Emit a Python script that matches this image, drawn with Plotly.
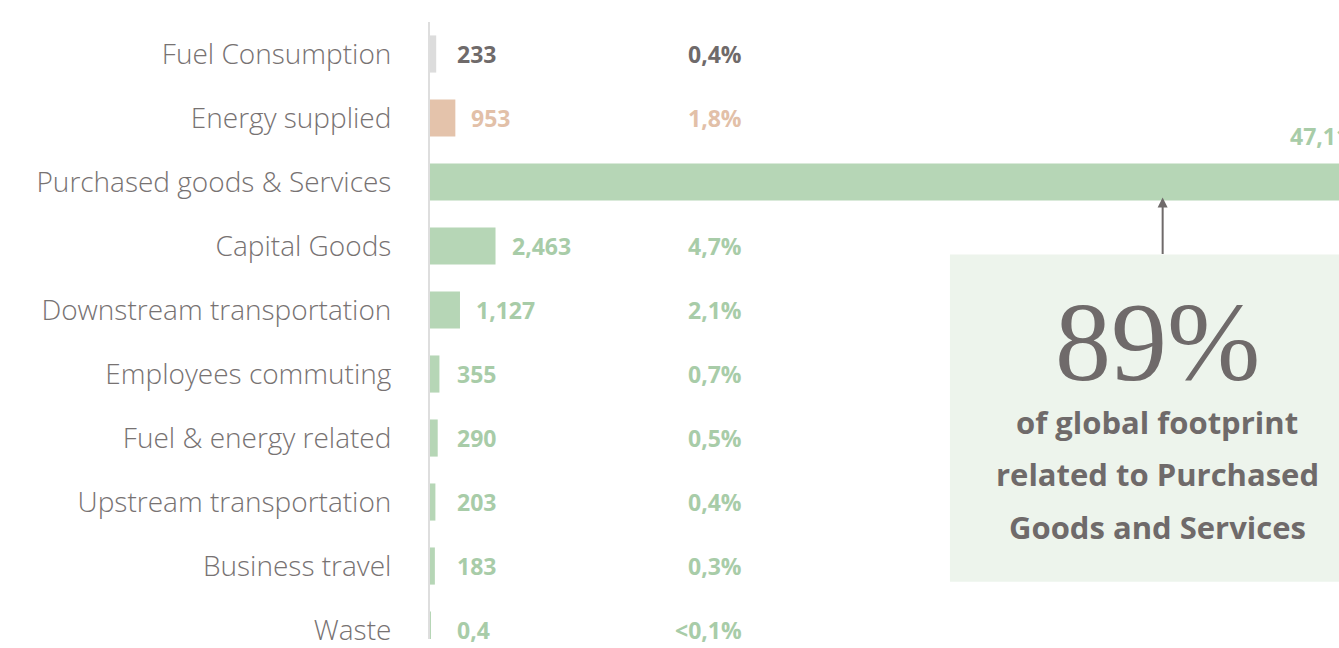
import plotly.graph_objects as go

categories = ["Fuel Consumption", "Energy supplied", "Purchased goods & Services",
              "Capital Goods", "Downstream transportation", "Employees commuting",
              "Fuel & energy related", "Upstream transportation", "Business travel", "Waste"]
values = [233, 953, 47118, 2463, 1127, 355, 290, 203, 183, 0.4]
value_labels = ["233", "953", "47,118", "2,463", "1,127", "355", "290", "203", "183", "0,4"]
share_labels = ["0,4%", "1,8%", "", "4,7%", "2,1%", "0,7%", "0,5%", "0,4%", "0,3%", "<0,1%"]
headline = "89%"
headline_lines = ["of global footprint", "related to Purchased", "Goods and Services"]

GREY_BAR, GREY_TXT = "#dcdcdc", "#6f6a6a"
PEACH_BAR, PEACH_TXT = "#e4c3ab", "#e2c0a8"
GREEN_BAR, GREEN_TXT = "#b6d6b6", "#a8cca8"
bar_colors = [GREY_BAR, PEACH_BAR] + [GREEN_BAR] * 8
txt_colors = [GREY_TXT, PEACH_TXT] + [GREEN_TXT] * 8

LABEL_FONT = "Open Sans"
VALUE_FONT = "Open Sans"

fig = go.Figure()
fig.add_trace(go.Bar(
    y=categories, x=values, orientation="h",
    marker=dict(color=bar_colors, line=dict(width=0)),
    width=0.58, hoverinfo="skip",
))

# value labels next to each bar
for cat, v, lab, col in zip(categories, values, value_labels, txt_colors):
    if cat == "Purchased goods & Services":
        fig.add_annotation(x=32250, y=cat, text=lab, showarrow=False, xanchor="left",
                           yshift=46, font=dict(family=VALUE_FONT, size=23, color=col, weight="bold"))
        continue
    fig.add_annotation(x=max(v, 400), y=cat, text=lab, showarrow=False, xanchor="left",
                       xshift=14, font=dict(family=VALUE_FONT, size=23, color=col, weight="bold"))

# share labels, right aligned column
for cat, s, col in zip(categories, share_labels, txt_colors):
    if s:
        fig.add_annotation(x=11800, y=cat, text=s, showarrow=False, xanchor="right",
                           font=dict(family=VALUE_FONT, size=23, color=col, weight="bold"))

# callout box
fig.add_shape(type="rect", xref="paper", yref="paper", x0=0.572, x1=1.03, y0=0.0927, y1=0.623,
              fillcolor="#edf4ec", line=dict(width=0), layer="below")
fig.add_annotation(xref="paper", yref="paper", x=0.806, y=0.7157, ax=0, ay=58, text="",
                   showarrow=True, arrowhead=2, arrowsize=1, arrowwidth=2, arrowcolor="#6f6a6a")
fig.add_annotation(xref="paper", yref="paper", x=0.8, y=0.481, text=headline, showarrow=False,
                   xanchor="center", yanchor="middle",
                   font=dict(family="Liberation Serif", size=112, color="#6f6a6a"))
for yy, line in zip([0.351, 0.267, 0.182], headline_lines):
    fig.add_annotation(xref="paper", yref="paper", x=0.8, y=yy, text=line, showarrow=False,
                       xanchor="center", yanchor="middle",
                       font=dict(family=VALUE_FONT, size=31, color="#6f6a6a", weight="bold"))

fig.update_layout(
    width=1339, height=648,
    margin=dict(l=430, r=0, t=22, b=0),
    paper_bgcolor="white", plot_bgcolor="white",
    showlegend=False,
)
fig.update_xaxes(range=[0, 34170], visible=False, fixedrange=True)
fig.update_yaxes(range=[9.14, -0.5], showline=True, linecolor="#dedede", linewidth=2,
                 showgrid=False, ticks="", ticklabelstandoff=31,
                 tickfont=dict(family=LABEL_FONT, size=28, color="#777272", weight=300),
                 fixedrange=True)

fig.write_html("out.html", config={"displayModeBar": False},
               post_script="document.body.style.margin='0';document.body.style.overflow='hidden';")
